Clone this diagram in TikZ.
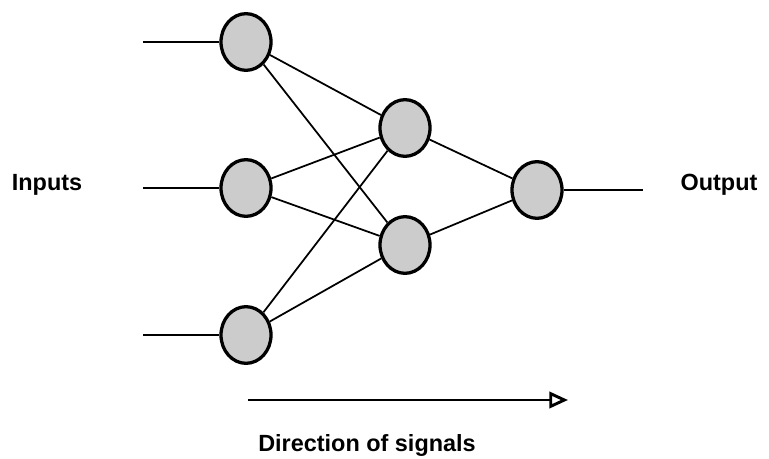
\documentclass[tikz,border=0pt]{standalone}
\usepackage{fontspec}
\setmainfont{Liberation Sans}
\usetikzlibrary{shapes.geometric,arrows.meta,positioning,calc}
\definecolor{cneuron}{HTML}{cccccc}

\begin{document}
\begin{tikzpicture}[x=0.03cm, y=-0.03cm,
      neuron/.style={draw, ellipse, line width=2.8pt, fill=cneuron, minimum width=1.5cm, minimum height=1.7cm, inner sep=0pt},
      conn/.style={line width=1.5pt},
      lbl/.style={font=\fontsize{20}{24}\selectfont\bfseries}
    ]
    \useasboundingbox (0,0) rectangle (769,459);
    \node[neuron] (i1) at (246,42) {};
    \node[neuron] (i2) at (246,188) {};
    \node[neuron] (i3) at (246,335) {};
    \node[neuron] (h1) at (405,128) {};
    \node[neuron] (h2) at (405,245) {};
    \node[neuron] (o) at (537,190) {};
    \coordinate (s1) at (143,42);
    \coordinate (s2) at (143,188);
    \coordinate (s3) at (143,335);
    \coordinate (e) at (643,190);
    \node[lbl] (in) at (47,185) {Inputs};
    \node[lbl] (out) at (719,185) {Output};
    \coordinate (a1) at (248,400);
    \coordinate (a2) at (568,400);
    \node[lbl] (dir) at (367,445) {Direction of signals};
    \draw[conn] (s1) -- (i1); \draw[conn] (s2) -- (i2); \draw[conn] (s3) -- (i3);
    \foreach \i in {i1,i2,i3} {
      \foreach \h in {h1,h2} \draw[conn] (\i) -- (\h);
    }
    \draw[conn] (h1) -- (o); \draw[conn] (h2) -- (o);
    \draw[conn] (o) -- (e);
    \draw[line width=2.5pt, -{Triangle[open, length=16pt, width=14pt, line width=2.5pt]}] (a1) -- (a2);
  \end{tikzpicture}
\end{document}
